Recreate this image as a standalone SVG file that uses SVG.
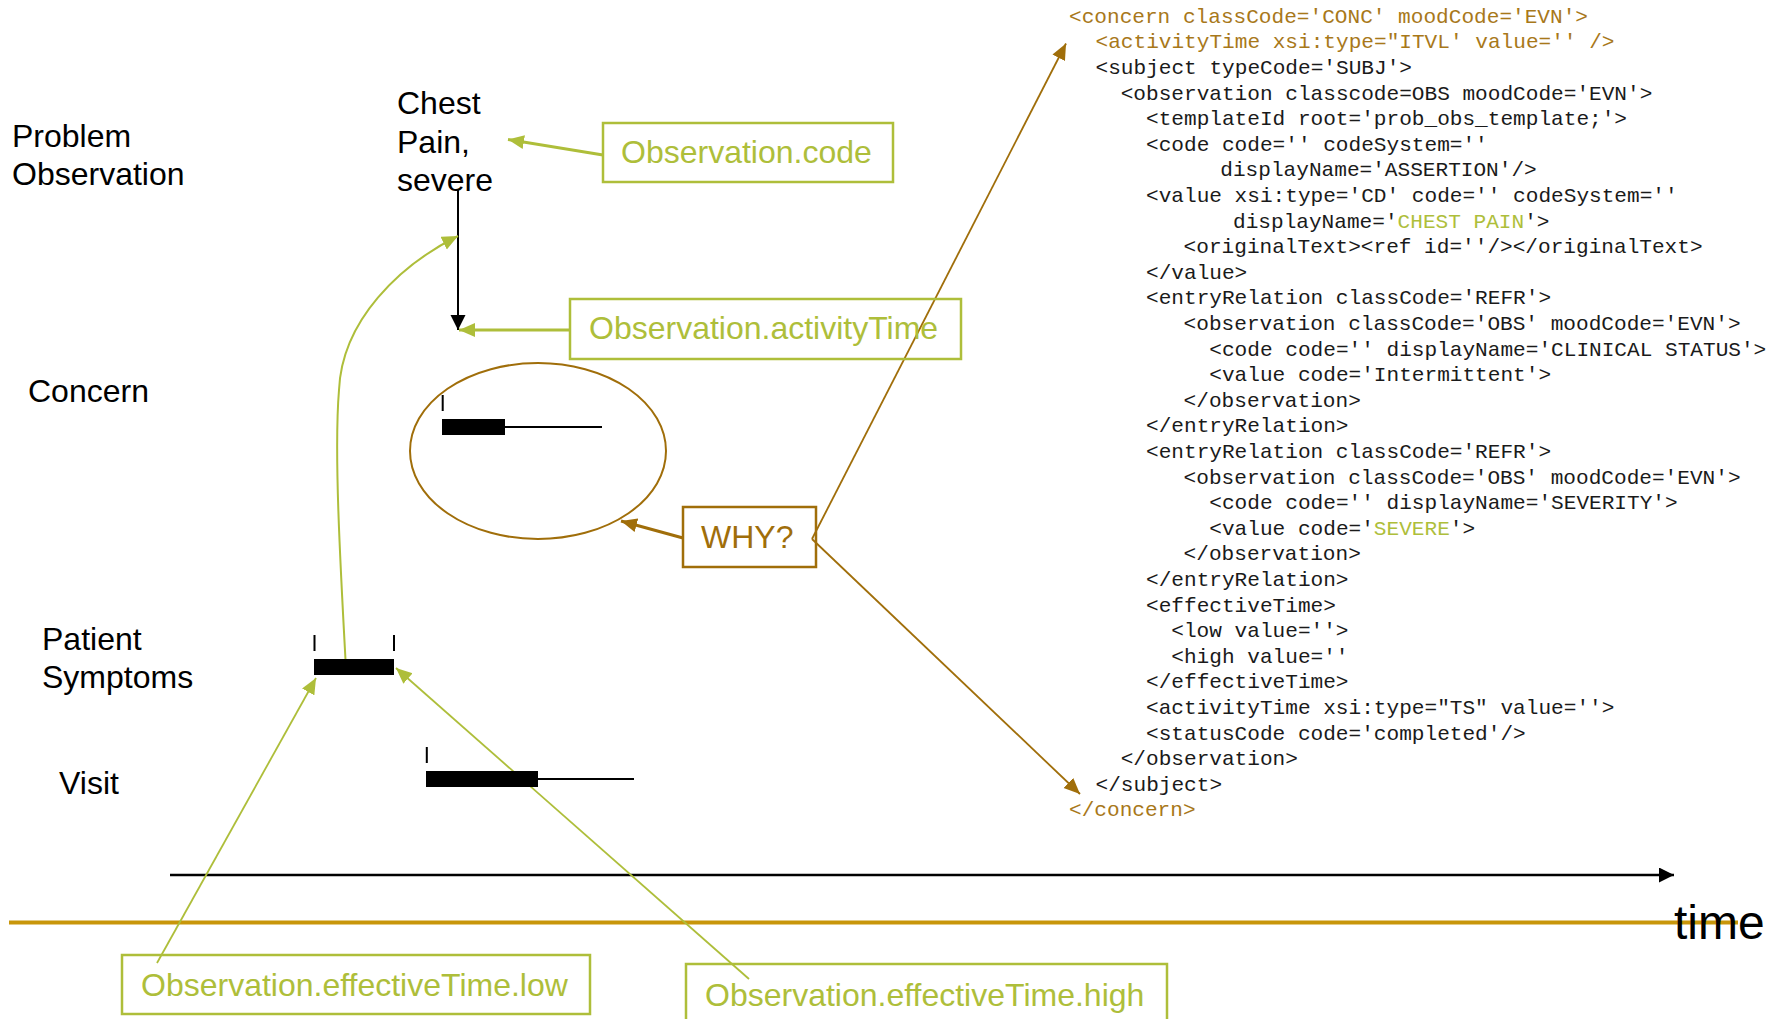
<svg xmlns="http://www.w3.org/2000/svg" width="1780" height="1019" viewBox="0 0 1780 1019">
<style>
.lbl{font-family:"Liberation Sans",Arial,sans-serif;font-size:32px;fill:#000}
.glbl{font-family:"Liberation Sans",Arial,sans-serif;font-size:32px;fill:#AEBE3A}
.wlbl{font-family:"Liberation Sans",Arial,sans-serif;font-size:32px;fill:#A06E0A}
.gbox{fill:none;stroke:#AEBE3A;stroke-width:2.5}
.bbox{fill:none;stroke:#A06E0A;stroke-width:2.5}
.code{font-family:"Liberation Mono","Courier New",monospace;font-size:21.1px;fill:#1a1a1a}
.cb{fill:#A8781A}
.cg{fill:#AEBE3A}
.gl{stroke:#AEBE3A;fill:none}
.bl{stroke:#A06E0A;fill:none}
.kl{stroke:#000;fill:none}
.bar{fill:#000}
</style>
<defs>
<marker id="ag" markerUnits="userSpaceOnUse" markerWidth="17" markerHeight="15" refX="16" refY="7" orient="auto"><path d="M0,0 L16,7 L0,14 Z" fill="#AEBE3A"/></marker>
<marker id="ab" markerUnits="userSpaceOnUse" markerWidth="17" markerHeight="15" refX="16" refY="7" orient="auto"><path d="M0,0 L16,7 L0,14 Z" fill="#A06E0A"/></marker>
<marker id="ak" markerUnits="userSpaceOnUse" markerWidth="16" markerHeight="16" refX="15" refY="7.5" orient="auto"><path d="M0,0 L15,7.5 L0,15 Z" fill="#000"/></marker>
</defs>
<rect width="1780" height="1019" fill="#fff"/>

<line x1="9" y1="922.5" x2="1738" y2="922.5" stroke="#C8960A" stroke-width="4"/>

<g id="connectors">
<path class="kl" stroke-width="2.5" d="M170,875 L1674,875" marker-end="url(#ak)"/>
<path class="kl" stroke-width="2" d="M458,190 L458,330" marker-end="url(#ak)"/>
<path class="gl" stroke-width="3" d="M603,155 L508,139.5" marker-end="url(#ag)"/>
<path class="gl" stroke-width="3" d="M570,330 L459,330" marker-end="url(#ag)"/>
<path class="gl" stroke-width="2" d="M346,669 C340,560 334,450 339,390 C342,320 400,265 458,236" marker-end="url(#ag)"/>
<path class="gl" stroke-width="1.8" d="M157,963 L316,678" marker-end="url(#ag)"/>
<path class="gl" stroke-width="1.8" d="M749,979 L396,668" marker-end="url(#ag)"/>
<path class="bl" stroke-width="3" d="M683,538 L621,521" marker-end="url(#ab)"/>
<path class="bl" stroke-width="1.8" d="M812,539 L1066,43.5" marker-end="url(#ab)"/>
<path class="bl" stroke-width="1.8" d="M812,539 L1080,794" marker-end="url(#ab)"/>
</g>

<g id="labels">
<text class="lbl" x="12" y="147">Problem</text>
<text class="lbl" x="12" y="185">Observation</text>
<text class="lbl" x="28" y="402">Concern</text>
<text class="lbl" x="42" y="650">Patient</text>
<text class="lbl" x="42" y="688">Symptoms</text>
<text class="lbl" x="59" y="794">Visit</text>
<text class="lbl" x="1674" y="939" style="font-size:48px">time</text>
</g>

<g id="chest-pain">
<text class="lbl" x="397" y="114">Chest</text>
<text class="lbl" x="397" y="153">Pain,</text>
<text class="lbl" x="397" y="191">severe</text>
</g>

<g id="concern-ellipse">
<ellipse cx="538" cy="451" rx="128" ry="88" fill="none" stroke="#A06E0A" stroke-width="2"/>
<rect class="bar" x="441.7" y="395" width="2" height="16"/>
<rect class="bar" x="442" y="419" width="63" height="16"/>
<line x1="505" y1="427" x2="602" y2="427" stroke="#000" stroke-width="2"/>
</g>

<g id="symptoms-bar">
<rect class="bar" x="313.5" y="635" width="2" height="16"/>
<rect class="bar" x="393" y="635" width="2" height="16"/>
<rect class="bar" x="314" y="659" width="80" height="16"/>
</g>

<g id="visit-bar">
<rect class="bar" x="425.8" y="747" width="2" height="16"/>
<rect class="bar" x="426" y="771" width="112" height="16"/>
<line x1="538" y1="779" x2="634" y2="779" stroke="#000" stroke-width="2"/>
</g>

<g id="obs-code">
<rect class="gbox" x="603" y="123" width="290" height="59"/>
<text class="glbl" x="621" y="163">Observation.code</text>
</g>

<g id="obs-activitytime">
<rect class="gbox" x="570" y="299" width="391" height="60"/>
<text class="glbl" x="589" y="339">Observation.activityTime</text>
</g>

<g id="why">
<rect class="bbox" x="683" y="507" width="133" height="60"/>
<text class="wlbl" x="701" y="548">WHY?</text>
</g>

<g id="obs-efftime-low">
<rect class="gbox" x="122" y="955" width="468" height="59"/>
<text class="glbl" x="141" y="996">Observation.effectiveTime.low</text>
</g>

<g id="obs-efftime-high">
<rect class="gbox" x="686" y="964" width="481" height="80"/>
<text class="glbl" x="705" y="1006">Observation.effectiveTime.high</text>
</g>

<g id="xml-code" class="code">
<text class="cb" x="1069" y="22.8">&lt;concern classCode='CONC' moodCode='EVN'&gt;</text>
<text class="cb" x="1095.5" y="48.4">&lt;activityTime xsi:type="ITVL' value='' /&gt;</text>
<text x="1095.5" y="74">&lt;subject typeCode='SUBJ'&gt;</text>
<text x="1120.7" y="99.6">&lt;observation classcode=OBS moodCode='EVN'&gt;</text>
<text x="1146" y="125.2">&lt;templateId root='prob_obs_template;'&gt;</text>
<text x="1146" y="150.8">&lt;code code='' codeSystem=''</text>
<text x="1220.3" y="176.4">displayName='ASSERTION'/&gt;</text>
<text x="1146" y="202">&lt;value xsi:type='CD' code='' codeSystem=''</text>
<text x="1233" y="227.6">displayName='<tspan class="cg">CHEST PAIN</tspan>'&gt;</text>
<text x="1183.6" y="253.2">&lt;originalText&gt;&lt;ref id=''/&gt;&lt;/originalText&gt;</text>
<text x="1146" y="278.8">&lt;/value&gt;</text>
<text x="1146" y="304.4">&lt;entryRelation classCode='REFR'&gt;</text>
<text x="1183.6" y="330">&lt;observation classCode='OBS' moodCode='EVN'&gt;</text>
<text x="1209.3" y="355.6">&lt;code code='' displayName='CLINICAL STATUS'&gt;</text>
<text x="1209.3" y="381.2">&lt;value code='Intermittent'&gt;</text>
<text x="1183.6" y="406.8">&lt;/observation&gt;</text>
<text x="1146" y="432.4">&lt;/entryRelation&gt;</text>
<text x="1146" y="458">&lt;entryRelation classCode='REFR'&gt;</text>
<text x="1183.6" y="483.6">&lt;observation classCode='OBS' moodCode='EVN'&gt;</text>
<text x="1209.3" y="509.2">&lt;code code='' displayName='SEVERITY'&gt;</text>
<text x="1209.3" y="534.8">&lt;value code='<tspan class="cg">SEVERE</tspan>'&gt;</text>
<text x="1183.6" y="560.4">&lt;/observation&gt;</text>
<text x="1146" y="586">&lt;/entryRelation&gt;</text>
<text x="1146" y="611.6">&lt;effectiveTime&gt;</text>
<text x="1171.3" y="637.2">&lt;low value=''&gt;</text>
<text x="1171.3" y="662.8">&lt;high value=''</text>
<text x="1146" y="688.4">&lt;/effectiveTime&gt;</text>
<text x="1146" y="714">&lt;activityTime xsi:type="TS" value=''&gt;</text>
<text x="1146" y="739.6">&lt;statusCode code='completed'/&gt;</text>
<text x="1120.7" y="765.2">&lt;/observation&gt;</text>
<text x="1095.5" y="790.8">&lt;/subject&gt;</text>
<text class="cb" x="1069" y="816.4">&lt;/concern&gt;</text>
</g>
</svg>
